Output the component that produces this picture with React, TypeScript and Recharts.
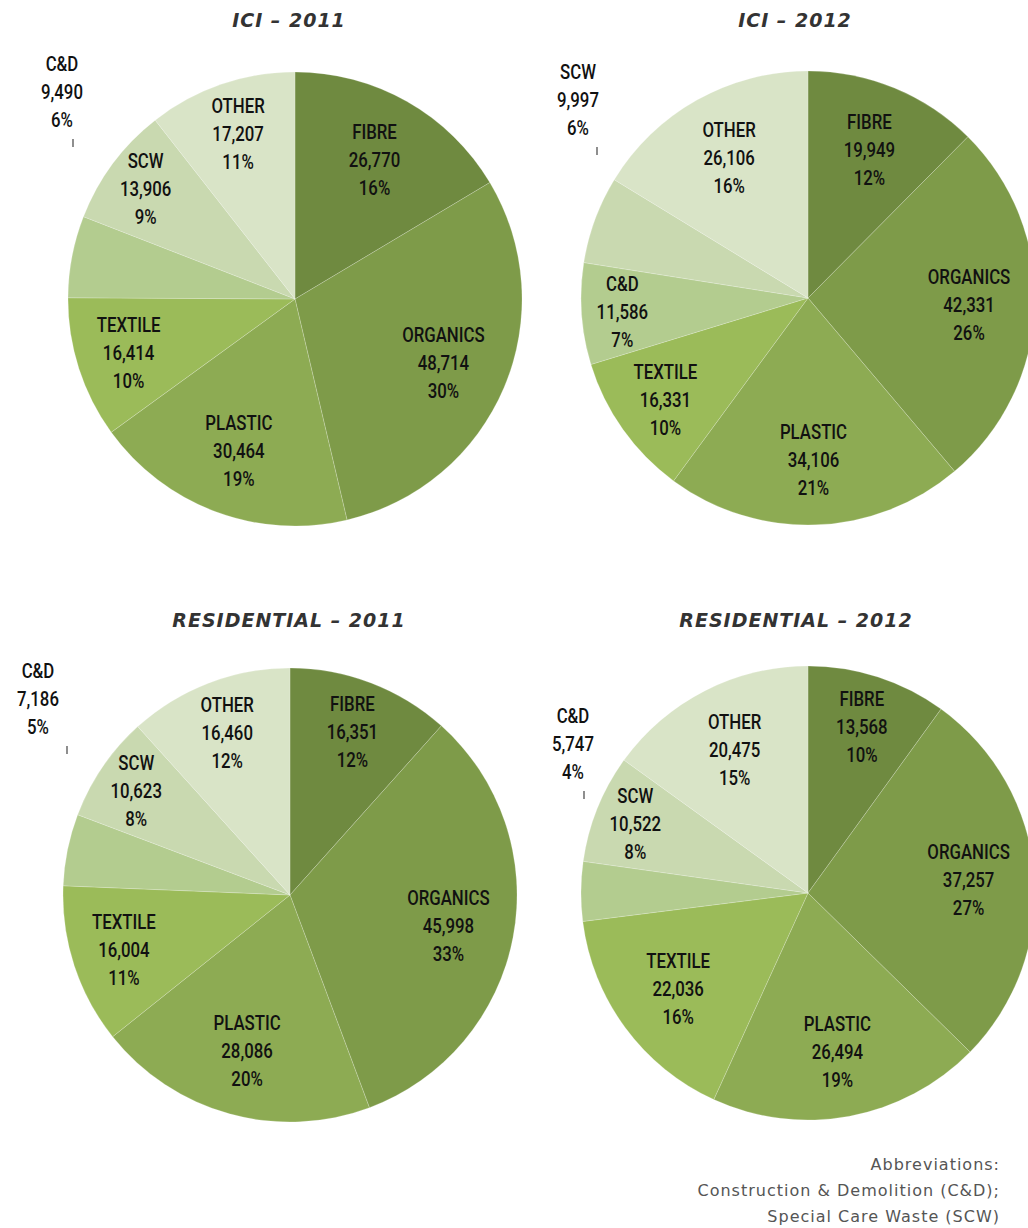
import React from "react"
import { PieChart, Pie, Cell } from "recharts"

// waste composition (tonnes) by stream, clockwise from 12 o'clock
const categories = ["FIBRE", "ORGANICS", "PLASTIC", "TEXTILE", "C&D", "SCW", "OTHER"]
const ici2011 = [26770, 48714, 30464, 16414, 9490, 13906, 17207]
const ici2012 = [19949, 42331, 34106, 16331, 11586, 9997, 26106]
const res2011 = [16351, 45998, 28086, 16004, 7186, 10623, 16460]
const res2012 = [13568, 37257, 26494, 22036, 5747, 10522, 20475]
const titles = ["ICI – 2011", "ICI – 2012", "RESIDENTIAL – 2011", "RESIDENTIAL – 2012"]
const footnote = ["Abbreviations:", "Construction & Demolition (C&D);", "Special Care Waste (SCW)"]

const sliceColors = ["#6f8a40", "#7e9b49", "#8dab53", "#9bbb59", "#b3cc8f", "#c9d9b0", "#d9e4c7"]

const W = 1028
const H = 1228
const R = 227
const LABEL_FONT = "Roboto, 'DejaVu Sans Condensed', sans-serif"
// the original labels use a narrow face; squeeze Roboto horizontally
const SQUEEZE = 0.8

// panel layout: pie centre, title centre, and where the small-slice callout sits
const panels = [
  { values: ici2011, title: titles[0], cx: 295, cy: 299, tx: 289, ty: 20, callout: { dx: -233, dy: -208, tickDx: 11 } },
  { values: ici2012, title: titles[1], cx: 808, cy: 298, tx: 795, ty: 20, callout: { dx: -230, dy: -199, tickDx: 19 } },
  { values: res2011, title: titles[2], cx: 290, cy: 895, tx: 289, ty: 620, callout: { dx: -252, dy: -197, tickDx: 29 } },
  { values: res2012, title: titles[3], cx: 808, cy: 893, tx: 796, ty: 620, callout: { dx: -235, dy: -150, tickDx: 11 } },
]

const fmt = (v: number) => v.toLocaleString("en-US")

function makeLabel(panel: (typeof panels)[number]) {
  const smallest = panel.values.indexOf(Math.min(...panel.values))
  return (props: any) => {
    const { cx, cy, midAngle, outerRadius, percent, name, value, index } = props
    const lines = [name, fmt(value), `${Math.round(percent * 100)}%`]
    let x: number
    let y: number
    if (index === smallest) {
      x = cx + panel.callout.dx
      y = cy + panel.callout.dy
    } else {
      const ratio = percent < 0.09 ? 0.82 : percent < 0.12 ? 0.77 : 0.71
      const rad = (-midAngle * Math.PI) / 180
      x = cx + outerRadius * ratio * Math.cos(rad)
      y = cy + outerRadius * ratio * Math.sin(rad)
    }
    return (
      <g>
        <g transform={`translate(${x} 0) scale(${SQUEEZE} 1) translate(${-x} 0)`}>
          <text
            x={x}
            y={y - 28}
            textAnchor="middle"
            dominantBaseline="central"
            fill="#111"
            style={{ fontFamily: LABEL_FONT, fontSize: 21, fontWeight: 500 }}
          >
            {lines.map((t, i) => (
              <tspan key={i} x={x} dy={i === 0 ? 0 : 28}>
                {t}
              </tspan>
            ))}
          </text>
        </g>
        {index === smallest && (
          <line
            x1={x + panel.callout.tickDx}
            y1={y + 48}
            x2={x + panel.callout.tickDx}
            y2={y + 56}
            stroke="#444"
            strokeWidth={1.2}
          />
        )}
      </g>
    )
  }
}

export default function App() {
  return (
    <div style={{ position: "absolute", left: 0, top: 0, width: W, height: H, background: "#fff", overflow: "hidden" }}>
      {panels.map((p) => (
        <div
          key={p.title}
          style={{
            position: "absolute",
            left: p.tx - 200,
            top: p.ty - 12,
            width: 400,
            textAlign: "center",
            fontFamily: "'DejaVu Sans', sans-serif",
            fontWeight: "bold",
            fontStyle: "italic",
            fontSize: 19,
            lineHeight: "24px",
            letterSpacing: 1,
            color: "#333",
          }}
        >
          {p.title}
        </div>
      ))}

      <div style={{ position: "absolute", left: 0, top: 0 }}>
        <PieChart width={W} height={H} margin={{ top: 0, right: 0, bottom: 0, left: 0 }}>
          {panels.map((p) => (
            <Pie
              key={p.title}
              data={categories.map((name, i) => ({ name, value: p.values[i] }))}
              dataKey="value"
              nameKey="name"
              cx={p.cx}
              cy={p.cy}
              outerRadius={R}
              startAngle={90}
              endAngle={-270}
              stroke="rgba(255,255,255,0.2)"
              strokeWidth={1}
              label={makeLabel(p)}
              labelLine={false}
              isAnimationActive={false}
            >
              {categories.map((c, i) => (
                <Cell key={c} fill={sliceColors[i]} />
              ))}
            </Pie>
          ))}
        </PieChart>
      </div>

      <div
        style={{
          position: "absolute",
          right: 28,
          top: 1152,
          textAlign: "right",
          fontFamily: "'DejaVu Sans', sans-serif",
          fontSize: 16,
          lineHeight: "26px",
          letterSpacing: 1,
          color: "#555",
        }}
      >
        {footnote.map((t) => (
          <div key={t}>{t}</div>
        ))}
      </div>
    </div>
  )
}
